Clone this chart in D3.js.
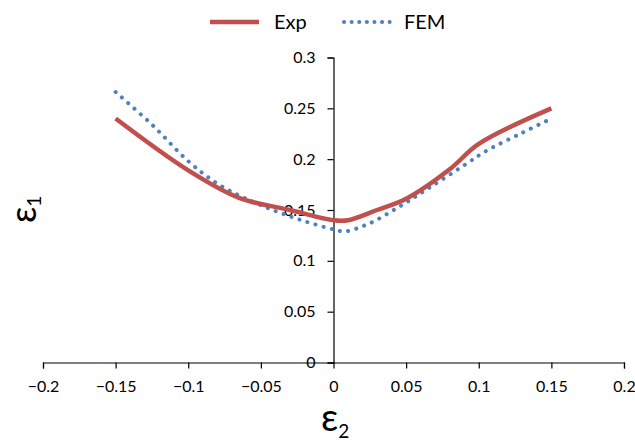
<!DOCTYPE html>
<html>
<head>
  <script src="https://d3js.org/d3.v7.min.js"></script>
  <style>
    body { margin: 0; background: #fff; }
    svg { display: block; font-family: Lato, "Open Sans", sans-serif; }
  </style>
</head>
<body>
  <div id="chart"></div>
  <script>
    // Exp series (measured)
    const expX = [-0.15, -0.1, -0.065, -0.03, 0, 0.01, 0.03, 0.05, 0.08, 0.1, 0.15];
    const expY = [0.24, 0.189, 0.162, 0.15, 0.14, 0.14, 0.15, 0.161, 0.19, 0.215, 0.25];

    // FEM series (simulation)
    const femX = [-0.15, -0.125, -0.1, -0.08, -0.06, -0.04, -0.02, 0, 0.008, 0.025, 0.045, 0.065, 0.09, 0.105, 0.13, 0.15];
    const femY = [0.266, 0.234, 0.198, 0.176, 0.161, 0.149, 0.139, 0.131, 0.129, 0.137, 0.153, 0.171, 0.194, 0.208, 0.226, 0.24];

    const xTicks = [-0.2, -0.15, -0.1, -0.05, 0, 0.05, 0.1, 0.15, 0.2];
    const yTicks = [0, 0.05, 0.1, 0.15, 0.2, 0.25, 0.3];

    const width = 635, height = 444;

    const svg = d3.select("#chart").append("svg")
      .attr("width", width)
      .attr("height", height);

    const x = d3.scaleLinear().domain([-0.2, 0.2]).range([43, 624]);
    const y = d3.scaleLinear().domain([0, 0.3]).range([362.5, 57.5]);

    // x axis through y = 0
    const xAxis = svg.append("g")
      .attr("transform", `translate(0,${y(0)})`)
      .call(d3.axisBottom(x).tickValues(xTicks).tickSize(6).tickPadding(12)
        .tickFormat(d => d3.format("")(+d.toFixed(2))));

    // y axis through x = 0
    const yAxis = svg.append("g")
      .attr("transform", `translate(${x(0)},0)`)
      .call(d3.axisLeft(y).tickValues(yTicks).tickSize(6).tickPadding(12)
        .tickFormat(d => d3.format("")(+d.toFixed(2))));

    [xAxis, yAxis].forEach(g => {
      g.select(".domain").attr("stroke", "#000").attr("stroke-width", 1.2);
      g.selectAll(".tick line").attr("stroke", "#000").attr("stroke-width", 1.2);
      g.selectAll(".tick text").attr("font-size", 16).attr("fill", "#000")
        .attr("font-family", "Lato, sans-serif");
    });

    const line = d3.line()
      .x(d => x(d[0]))
      .y(d => y(d[1]))
      .curve(d3.curveCatmullRom.alpha(0.5));

    const femData = femX.map((v, i) => [v, femY[i]]);
    const expData = expX.map((v, i) => [v, expY[i]]);

    svg.append("path")
      .datum(femData)
      .attr("d", line)
      .attr("fill", "none")
      .attr("stroke", "#4F81BD")
      .attr("stroke-width", 4)
      .attr("stroke-linecap", "round")
      .attr("stroke-dasharray", "0.1 8.3");

    svg.append("path")
      .datum(expData)
      .attr("d", line)
      .attr("fill", "none")
      .attr("stroke", "#C0504D")
      .attr("stroke-width", 4.5);

    // legend
    const legend = svg.append("g");
    legend.append("line")
      .attr("x1", 210).attr("x2", 259).attr("y1", 22).attr("y2", 22)
      .attr("stroke", "#C0504D").attr("stroke-width", 4.5);
    legend.append("text")
      .attr("x", 274).attr("y", 29)
      .attr("font-size", 20)
      .text("Exp");
    legend.append("line")
      .attr("x1", 344).attr("x2", 390).attr("y1", 22).attr("y2", 22)
      .attr("stroke", "#4F81BD").attr("stroke-width", 4)
      .attr("stroke-linecap", "round")
      .attr("stroke-dasharray", "0.1 7.5");
    legend.append("text")
      .attr("x", 404).attr("y", 29)
      .attr("font-size", 20)
      .text("FEM");

    // axis titles
    const xTitle = svg.append("text")
      .attr("x", 321).attr("y", 431)
      .attr("font-size", 38);
    xTitle.append("tspan").text("ε");
    xTitle.append("tspan").attr("font-size", 19).attr("dy", 7).text("2");

    const yTitle = svg.append("text")
      .attr("transform", "translate(36,223) rotate(-90)")
      .attr("font-size", 36);
    yTitle.append("tspan").text("ε");
    yTitle.append("tspan").attr("font-size", 19).attr("dy", 5).text("1");
  </script>
</body>
</html>
